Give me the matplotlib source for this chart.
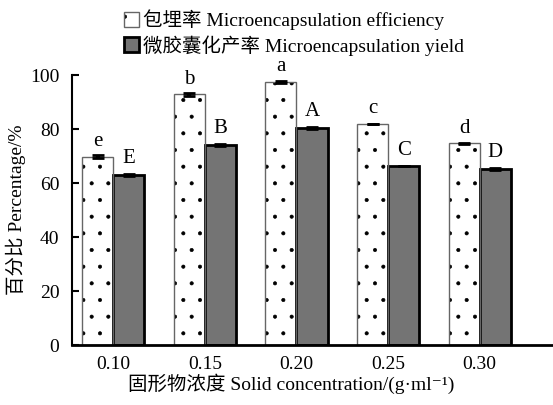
import matplotlib
matplotlib.use("Agg")
import matplotlib.pyplot as plt
import numpy as np

categories = ["0.10", "0.15", "0.20", "0.25", "0.30"]
efficiency = [69.7, 92.8, 97.4, 81.9, 74.7]
efficiency_err = [0.6, 0.7, 0.5, 0.0, 0.3]
yield_vals = [63.0, 74.1, 80.4, 66.3, 65.3]
yield_err = [0.3, 0.3, 0.3, 0.0, 0.3]
eff_letters = ["e", "b", "a", "c", "d"]
yield_letters = ["E", "B", "A", "C", "D"]
yticks = [0, 20, 40, 60, 80, 100]

FAM = ["Liberation Serif", "Noto Sans CJK SC", "DejaVu Sans"]
plt.rcParams["font.family"] = FAM
plt.rcParams["hatch.linewidth"] = 0.45

fig = plt.figure(figsize=(5.53, 4.05), dpi=100)
ax = fig.add_axes([72 / 553, 60 / 405, 1 - 72 / 553, 270 / 405])

x = np.arange(len(categories))
w = 0.34
# dot fill (black hatch) then gray outline on top
b0 = ax.bar(x - w / 2, efficiency, w, facecolor="white", edgecolor="black",
            linewidth=0, hatch=".", zorder=2)
b1 = ax.bar(x - w / 2, efficiency, w, facecolor="none", edgecolor="#666666",
            linewidth=1.0, zorder=2.5)
b2 = ax.bar(x + w / 2, yield_vals, w, facecolor="#747474", edgecolor="black",
            linewidth=2.0, zorder=2)
ax.errorbar(x - w / 2, efficiency, yerr=efficiency_err, fmt="none", ecolor="black",
            elinewidth=3, capsize=4, capthick=2, zorder=3)
ax.errorbar(x + w / 2, yield_vals, yerr=yield_err, fmt="none", ecolor="black",
            elinewidth=3, capsize=4, capthick=2, zorder=3)

for xi, v, t in zip(x - w / 2, efficiency, eff_letters):
    ax.annotate(t, (xi, v), xytext=(0, 11), textcoords="offset points",
                ha="center", va="center", fontsize=15, annotation_clip=False)
for xi, v, t in zip(x + w / 2, yield_vals, yield_letters):
    ax.annotate(t, (xi, v), xytext=(0, 11.5), textcoords="offset points",
                ha="center", va="center", fontsize=15, annotation_clip=False)

ax.set_xlim(-0.45, 4.8)
ax.set_ylim(0, 100)
ax.set_yticks(yticks)
ax.set_xticks(x)
ax.set_xticklabels(categories)
ax.tick_params(axis="y", direction="in", length=5, width=1.5, labelsize=14, pad=9)
ax.tick_params(axis="x", length=0, labelsize=14, pad=8)
for s in ["top", "right"]:
    ax.spines[s].set_visible(False)
ax.spines["left"].set_linewidth(1.5)
ax.spines["bottom"].set_linewidth(2.0)

ax.set_ylabel("百分比 Percentage/%", fontsize=14, labelpad=3)
ax.set_xlabel("固形物浓度 Solid concentration/(g·ml⁻¹)", fontsize=14, labelpad=2)
ax.xaxis.set_label_coords((291 - 72) / 481, -0.105)

fig.legend(handles=[(b0, b1), b2],
           labels=["包埋率 Microencapsulation efficiency", "微胶囊化产率 Microencapsulation yield"],
           loc="upper left", bbox_to_anchor=(110 / 553, 1.01),
           frameon=False, fontsize=14, handlelength=0.8, handleheight=0.8,
           handletextpad=0.2, labelspacing=0.25, borderpad=0.2)

fig.savefig("out.png", dpi=100)
